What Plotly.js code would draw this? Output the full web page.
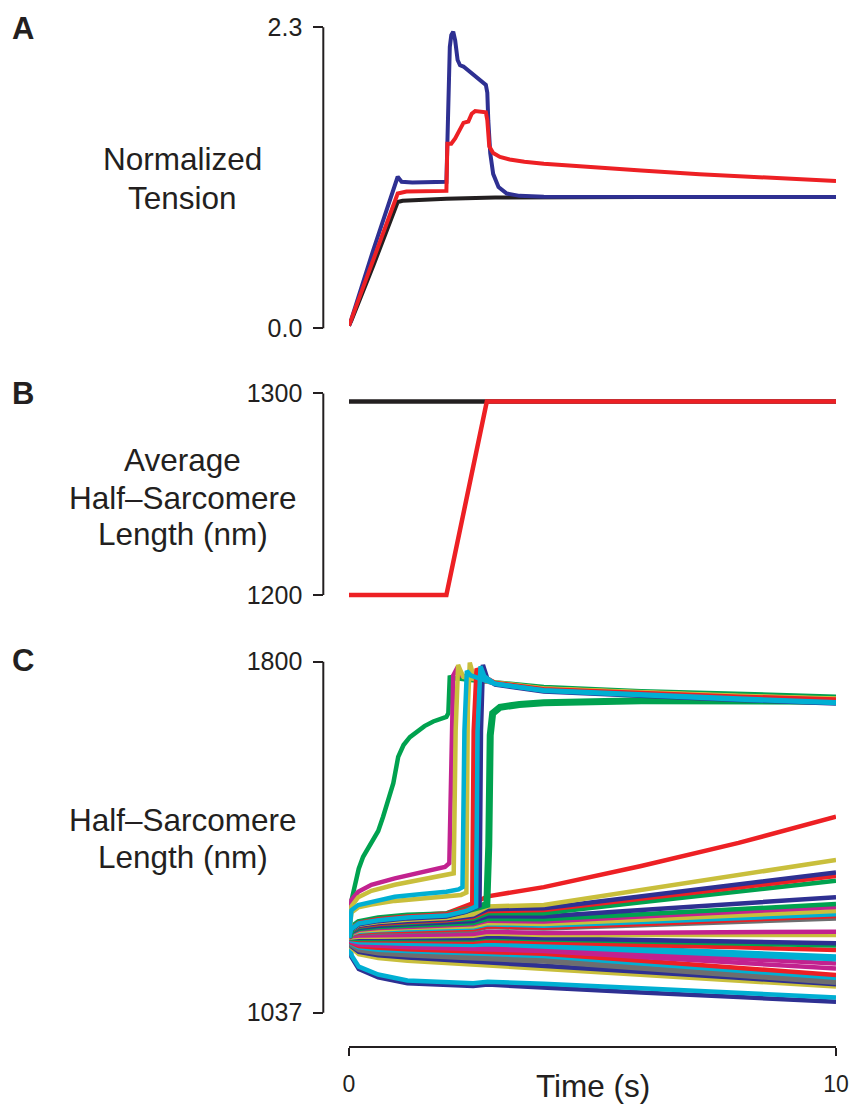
<!DOCTYPE html>
<html>
<head>
<meta charset="utf-8">
<script src="https://cdn.plot.ly/plotly-3.0.1.min.js"></script>
<style>html,body{margin:0;padding:0;background:#fff;}#chart{width:852px;height:1106px;}</style>
</head>
<body>
<div id="chart"></div>
<script>
// ---------- Panel A : normalized tension ----------
const tensionBlackT = [0, 0.05, 0.5, 1.0, 1.1, 1.5, 2.0, 3.0, 4, 6, 8, 10];
const tensionBlack  = [0.02, 0.06, 0.48, 0.965, 0.975, 0.985, 0.99, 1.0, 1.003, 1.003, 1.003, 1.003];

const tensionBlueT = [0, 0.05, 0.5, 1.0, 1.08, 1.3, 2.0, 2.04, 2.07, 2.1, 2.14, 2.18, 2.23, 2.28, 2.35, 2.81, 2.84, 2.86, 2.9, 2.96, 3.07, 3.24, 3.5, 4, 6, 8, 10];
const tensionBlue  = [0.02, 0.07, 0.6, 1.158, 1.12, 1.115, 1.12, 1.85, 2.15, 2.24, 2.266, 2.2, 2.05, 2.01, 2.0, 1.86, 1.80, 1.59, 1.34, 1.18, 1.08, 1.03, 1.012, 1.005, 1.003, 1.003, 1.003];

const tensionRedT = [0, 0.05, 0.3, 1.0, 1.18, 2.0, 2.02, 2.1, 2.18, 2.28, 2.35, 2.45, 2.52, 2.59, 2.81, 2.84, 2.88, 2.96, 3.1, 3.3, 3.6, 4.0, 4.5, 5.15, 6, 7.2, 8.5, 10];
const tensionRed  = [0.02, 0.07, 0.32, 1.03, 1.045, 1.05, 1.41, 1.41, 1.45, 1.53, 1.57, 1.58, 1.64, 1.66, 1.65, 1.59, 1.39, 1.34, 1.31, 1.29, 1.272, 1.257, 1.243, 1.224, 1.205, 1.178, 1.15, 1.125];

// ---------- Panel B : average half-sarcomere length ----------
const avgBlackT = [0, 10];
const avgBlack  = [1296, 1296];
const avgRedT   = [0, 2.0, 2.83, 10];
const avgRed    = [1200, 1200, 1296, 1296];

// ---------- Panel C : individual half-sarcomere lengths ----------
const bundleT = [0, 0.05, 0.2, 0.6, 1.2, 2.0, 2.55, 2.85, 4, 6, 8, 10];
const bundleColors = ['red','yellow','blue','red','green','blue','green','magenta','yellow','cyan','red','gray','magenta','yellow','blue','green','red','cyan','cyan','magenta','magenta','red','cyan','gray','gray','blue','yellow','cyan','blue'];
const bundleLengths = [
  [1200,1221,1234,1242,1248,1253,1275,1290,1310,1356,1406,1463],
  [1200,1217,1228,1234,1239,1243,1251,1268,1271,1304,1336,1369],
  [1200,1216,1226,1232,1236,1240,1247,1262,1264,1290,1316,1342],
  [1200,1215,1225,1230,1234,1238,1245,1258,1260,1285,1309,1334],
  [1200,1214,1223,1229,1232,1236,1241,1253,1253,1277,1300,1324],
  [1200,1213,1221,1226,1229,1232,1236,1247,1246,1260,1274,1288],
  [1200,1212,1219,1223,1226,1229,1232,1241,1240,1251,1262,1273],
  [1200,1210,1217,1221,1223,1226,1229,1237,1235,1246,1256,1267],
  [1200,1209,1215,1218,1221,1223,1225,1232,1230,1239,1249,1258],
  [1200,1208,1213,1216,1218,1220,1222,1229,1226,1234,1243,1251],
  [1200,1207,1211,1214,1215,1217,1219,1225,1222,1230,1239,1247],
  [1200,1206,1209,1211,1213,1214,1216,1223,1220,1227,1235,1242],
  [1200,1203,1205,1206,1206,1207,1208,1213,1210,1211,1212,1213],
  [1200,1201,1202,1202,1203,1203,1204,1209,1206,1206,1206,1206],
  [1200,1200,1199,1199,1199,1199,1199,1203,1199,1195,1192,1188],
  [1200,1198,1197,1197,1196,1196,1196,1200,1196,1192,1187,1183],
  [1200,1197,1195,1194,1193,1192,1191,1194,1190,1184,1179,1173],
  [1200,1195,1192,1190,1189,1188,1187,1190,1185,1176,1168,1159],
  [1200,1194,1190,1188,1187,1185,1184,1186,1181,1172,1162,1153],
  [1200,1192,1188,1185,1183,1181,1180,1181,1176,1165,1155,1144],
  [1200,1191,1185,1182,1179,1177,1175,1176,1171,1158,1146,1133],
  [1200,1189,1182,1178,1175,1172,1170,1171,1165,1150,1134,1119],
  [1200,1187,1179,1174,1171,1168,1166,1166,1160,1144,1129,1113],
  [1200,1185,1176,1170,1167,1163,1160,1160,1154,1139,1123,1108],
  [1200,1183,1173,1166,1162,1158,1155,1154,1148,1133,1117,1102],
  [1200,1181,1169,1162,1157,1152,1148,1147,1140,1126,1113,1099],
  [1200,1178,1164,1156,1150,1145,1141,1139,1132,1119,1107,1094],
  [1200,1162,1137,1120,1107,1102,1101,1104,1100,1090,1080,1070],
  [1200,1158,1132,1114,1101,1096,1095,1098,1091,1081,1071,1061]
];

// half-sarcomeres that jump to the long plateau (drawn last, in this order)
const jumperColors = ['green','green','magenta','yellow','yellow','red','blue','cyan','cyan'];
const jumperWidths = [7, 4.5, 4.5, 4.5, 4.5, 4.5, 4.5, 4.5, 4.5];
const jumperTimes = [
  [0,0.05,0.2,0.6,1.2,2.0,2.5,2.83,2.87,2.9,2.95,3.1,3.5,4,6,8,10],
  [0,0.02,0.06,0.12,0.2,0.29,0.4,0.5,0.6,0.7,0.8,0.91,1.01,1.06,1.12,1.25,1.39,1.55,1.73,2.0,2.04,2.07,2.1,2.2,2.5,3.0,4,6,8,10],
  [0,0.05,0.19,0.46,0.94,1.5,1.97,2.06,2.1,2.14,2.2,2.3,2.6,3.0,4,6,8,10],
  [0,0.05,0.19,0.46,0.94,1.5,2.0,2.15,2.19,2.24,2.3,2.35,2.6,3.0,4,6,8,10],
  [0,0.05,0.19,0.46,0.94,1.5,2.0,2.3,2.41,2.44,2.48,2.55,2.7,3.0,4,6,8,10],
  [0,0.05,0.2,0.6,1.2,2.0,2.3,2.53,2.56,2.62,2.7,3.0,4,6,8,10],
  [0,0.05,0.2,0.6,1.2,2.0,2.4,2.68,2.71,2.75,2.85,3.0,4,6,8,10],
  [0,0.05,0.19,0.46,0.94,1.5,2.0,2.25,2.33,2.37,2.42,2.5,2.7,3.0,4,6,8,10],
  [0,0.05,0.2,0.6,1.2,2.0,2.4,2.61,2.64,2.7,2.78,3.0,4,6,8,10]
];
const jumperLengths = [
  [1200,1221,1233,1241,1247,1250,1262,1272,1400,1640,1688,1701,1707,1711,1715,1716,1714],
  [1200,1246,1285,1318,1350,1376,1397,1412,1432,1463,1498,1536,1593,1608,1619,1636,1648,1660,1670,1680,1688,1770,1762,1764,1760,1755,1745,1736,1730,1724],
  [1200,1282,1300,1315,1329,1342,1354,1362,1600,1770,1782,1770,1762,1753,1741,1732,1725,1719],
  [1200,1268,1288,1302,1315,1327,1336,1340,1650,1793,1778,1767,1762,1754,1741,1732,1725,1719],
  [1200,1255,1266,1272,1280,1285,1289,1293,1298,1700,1798,1771,1765,1755,1742,1733,1726,1720],
  [1200,1220,1232,1240,1246,1251,1258,1265,1650,1785,1772,1754,1740,1731,1724,1718],
  [1200,1218,1229,1236,1242,1246,1256,1270,1650,1793,1760,1750,1735,1725,1717,1709],
  [1200,1260,1271,1278,1289,1295,1300,1305,1310,1650,1780,1770,1762,1752,1738,1728,1720,1712],
  [1200,1219,1231,1238,1244,1248,1258,1268,1650,1790,1768,1752,1737,1727,1718,1710]
];

// ---------- tick labels ----------
const xTicks = [0, 10];
const xTickText = ['0', '10'];
const yTicksA = [0, 2.3];   const yTickTextA = ['0.0', '2.3'];
const yTicksB = [1200, 1300]; const yTickTextB = ['1200', '1300'];
const yTicksC = [1037, 1800]; const yTickTextC = ['1037', '1800'];

// ---------- styling ----------
const PALETTE = {
  red: '#ED2024', blue: '#2E3092', green: '#00A24F', magenta: '#C2228F',
  yellow: '#C9BF3C', cyan: '#00AFD3', gray: '#6D6E70', black: '#231F20'
};
const FONT = 'Liberation Sans, Arial, Helvetica, sans-serif';
const INK = '#231F20';
const W = 852, H = 1106;
const px = v => v / W;
const py = v => 1 - v / H;

const traces = [];
function line(x, y, yaxis, color, width) {
  traces.push({x: x, y: y, xaxis: 'x', yaxis: yaxis, type: 'scatter', mode: 'lines',
    line: {color: color, width: width}, hoverinfo: 'skip', showlegend: false});
}

line(tensionBlackT, tensionBlack, 'y', PALETTE.black, 4);
line(tensionBlueT, tensionBlue, 'y', PALETTE.blue, 4);
line(tensionRedT, tensionRed, 'y', PALETTE.red, 4);

line(avgBlackT, avgBlack, 'y2', PALETTE.black, 4.5);
line(avgRedT, avgRed, 'y2', PALETTE.red, 4.5);

for (let i = bundleLengths.length - 1; i >= 0; i--) {
  line(bundleT, bundleLengths[i], 'y3', PALETTE[bundleColors[i]], 4.5);
}
for (let i = 0; i < jumperLengths.length; i++) {
  line(jumperTimes[i], jumperLengths[i], 'y3', PALETTE[jumperColors[i]], jumperWidths[i]);
}

const yAxisX = px(323.3);
function yaxis(domainTopPx, domainBotPx, range, tv, tt) {
  return {
    domain: [py(domainBotPx), py(domainTopPx)], range: range,
    anchor: 'free', position: yAxisX, side: 'left',
    showline: false, showgrid: false, zeroline: false,
    ticks: 'outside', ticklen: 10, tickwidth: 2, tickcolor: INK,
    tickvals: tv, ticktext: tt, ticklabelstandoff: 6,
    tickfont: {family: FONT, size: 25, color: INK}
  };
}

// domains chosen so that tick values land at the reference pixel rows
const layout = {
  width: W, height: H,
  margin: {l: 0, r: 0, t: 0, b: 0},
  paper_bgcolor: '#ffffff', plot_bgcolor: 'rgba(0,0,0,0)',
  showlegend: false,
  xaxis: {
    domain: [px(349), px(836)], range: [0, 10],
    anchor: 'free', position: py(1047.3),
    showline: true, linewidth: 2, linecolor: INK,
    showgrid: false, zeroline: false,
    ticks: 'outside', ticklen: 8, tickwidth: 2, tickcolor: INK,
    tickvals: xTicks, ticktext: xTickText, ticklabelstandoff: 8,
    tickfont: {family: FONT, size: 23, color: INK}
  },
  yaxis:  yaxis(20.75, 334.84, [-0.05, 2.35], yTicksA, yTickTextA),
  yaxis2: yaxis(383.4, 605.1, [1195, 1305], yTicksB, yTickTextB),
  yaxis3: yaxis(657.1, 1015.9, [1030, 1810], yTicksC, yTickTextC),
  shapes: [
    {type: 'line', xref: 'paper', yref: 'y',  x0: yAxisX, x1: yAxisX, y0: yTicksA[0], y1: yTicksA[1], line: {color: INK, width: 2}},
    {type: 'line', xref: 'paper', yref: 'y2', x0: yAxisX, x1: yAxisX, y0: yTicksB[0], y1: yTicksB[1], line: {color: INK, width: 2}},
    {type: 'line', xref: 'paper', yref: 'y3', x0: yAxisX, x1: yAxisX, y0: yTicksC[0], y1: yTicksC[1], line: {color: INK, width: 2}}
  ],
  annotations: []
};

function label(text, xPx, yPx, size, anchor) {
  layout.annotations.push({text: text, xref: 'paper', yref: 'paper', x: px(xPx), y: py(yPx),
    xanchor: anchor || 'center', yanchor: 'middle', showarrow: false,
    font: {family: FONT, size: size, color: INK}});
}
label('<b>A</b>', 10, 28.5, 31, 'left');
label('<b>B</b>', 10, 393.3, 31, 'left');
label('<b>C</b>', 10, 660, 31, 'left');

label('Normalized', 182.5, 159.2, 31.5);
label('Tension', 182.5, 197.5, 31.5);
label('Average', 182.5, 460, 31.5);
label('Half\u2013Sarcomere', 182.5, 497.5, 31.5);
label('Length (nm)', 182.5, 533.5, 31.5);
label('Half\u2013Sarcomere', 182.5, 820, 31.5);
label('Length (nm)', 182.5, 856.7, 31.5);
label('Time (s)', 593.3, 1085.8, 31.5);

Plotly.newPlot('chart', traces, layout, {staticPlot: true, displayModeBar: false});
</script>
</body>
</html>
